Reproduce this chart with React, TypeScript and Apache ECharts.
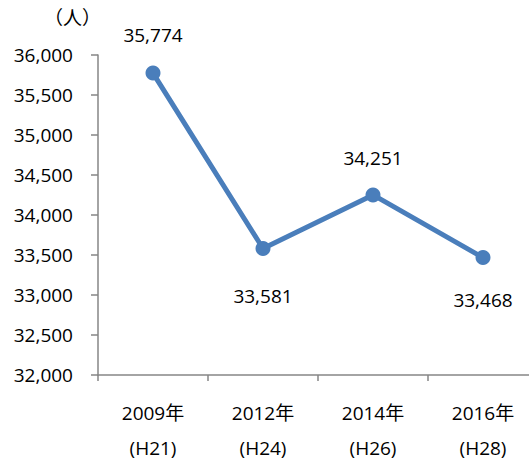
import React, { useEffect, useRef } from "react";
import * as echarts from "echarts";

const categories = ["2009年\n(H21)", "2012年\n(H24)", "2014年\n(H26)", "2016年\n(H28)"];
const values = [35774, 33581, 34251, 33468];
const labelPositions = ["top", "bottom", "top", "bottom"];
const labelOffsets = [[0, -16], [0, 25], [0, -15], [0, 20]];

const FONT = "'Open Sans', 'Noto Sans CJK JP', sans-serif";

export default function App() {
  const ref = useRef<HTMLDivElement>(null);
  useEffect(() => {
    const chart = echarts.init(ref.current!, null, { renderer: "svg" });
    chart.setOption({
      animation: false,
      textStyle: { fontFamily: FONT },
      grid: { left: 98, top: 55, width: 440, height: 320, containLabel: false, outerBoundsMode: "none" },
      graphic: [
        {
          type: "text",
          left: 44,
          top: 8,
          style: { text: "（人）", font: `19px ${FONT}`, fill: "#000" },
        },
      ],
      xAxis: {
        type: "category",
        data: categories,
        boundaryGap: true,
        axisLine: { lineStyle: { color: "#868686", width: 1.5 } },
        axisTick: { show: true, interval: 0, length: 6, lineStyle: { color: "#868686", width: 1.5 } },
        axisLabel: {
          interval: 0,
          hideOverlap: false,
          color: "#000",
          fontSize: 19,
          margin: 13,
          fontFamily: FONT,
          formatter: (v: string) => {
            const [a, b] = v.split("\n");
            return `{a|${a}}\n{b|${b}}`;
          },
          rich: {
            a: { fontSize: 19, lineHeight: 50, fontFamily: FONT, color: "#000" },
            b: { fontSize: 19, lineHeight: 20, fontFamily: FONT, color: "#000" },
          },
        },
      },
      yAxis: {
        type: "value",
        min: 32000,
        max: 36000,
        interval: 500,
        splitLine: { show: false },
        axisLine: { show: true, lineStyle: { color: "#868686", width: 1.5 } },
        axisTick: { show: true, length: 7, lineStyle: { color: "#868686", width: 1.5 } },
        axisLabel: {
          color: "#000",
          fontSize: 19,
          margin: 25,
          fontFamily: FONT,
          formatter: (v: number) => v.toLocaleString("en-US"),
        },
      },
      series: [
        {
          type: "line",
          data: values.map((v, i) => ({
            value: v,
            label: {
              show: true,
              position: labelPositions[i],
              offset: labelOffsets[i],
              color: "#000",
              fontSize: 19,
              fontFamily: FONT,
              formatter: (p: any) => Number(p.value).toLocaleString("en-US"),
            },
          })),
          symbol: "circle",
          symbolSize: 15,
          lineStyle: { color: "#4a7ebb", width: 5 },
          itemStyle: { color: "#4a7ebb" },
        },
      ],
    });
    return () => chart.dispose();
  }, []);
  return <div ref={ref} style={{ width: 529, height: 461, position: "absolute", left: 0, top: 0 }} />;
}
